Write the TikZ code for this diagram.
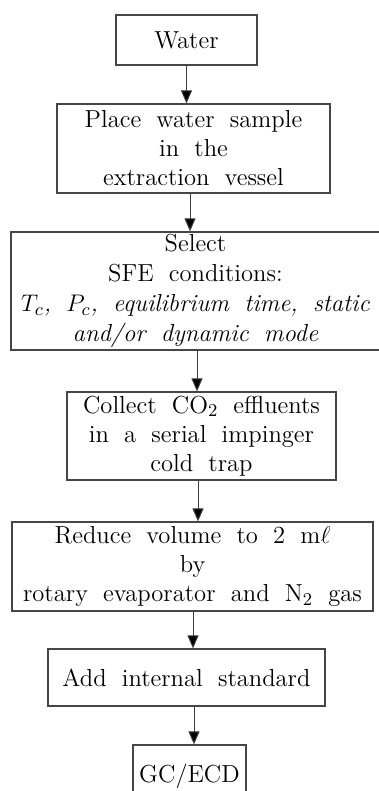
\documentclass[tikz,border=0pt]{standalone}
\usepackage{tikz}
\usetikzlibrary{arrows.meta}
\definecolor{boxcolor}{RGB}{70,70,70}
\definecolor{arrowcolor}{RGB}{60,60,60}
\newlength{\wordgap}
\setlength{\wordgap}{7.6pt plus 1pt minus 1pt}
\newcommand{\stepfont}[1]{\fontsize{12.3}{#1}\selectfont\spaceskip=\wordgap}

\begin{document}
\begin{tikzpicture}[x=0.5pt, y=-0.5pt]
  \tikzset{
    stepbox/.style={
      draw=boxcolor,
      line width=0.6pt,
      inner sep=0pt,
      align=center,
      anchor=center,
      font=\stepfont{14.5}
    },
    flow/.style={
      draw=arrowcolor,
      line width=0.5pt,
      -{Triangle[width=5.5pt,length=6.5pt,fill=black]}
    }
  }

  % Fix the page size
  \useasboundingbox (0,0) rectangle (379,791);
  \clip (0,0) rectangle (379,791);

  % Draw the steps
  \node[stepbox, minimum width=70.5pt, minimum height=25pt] at (186.5, 40) (water) {Water};

  \node[stepbox, minimum width=136.5pt, minimum height=44.5pt] at (193.5, 148.5) (place) {%
    Place water sample\\in the\\extraction vessel};

  \node[stepbox, minimum width=184.5pt, minimum height=59pt, font=\stepfont{15}] at (195.5, 291) (select) {%
    Select\\SFE conditions:\\
    \textit{$T_c$, $P_c$, equilibrium time, static}\\
    \textit{and/or dynamic mode}};

  \node[stepbox, minimum width=134.5pt, minimum height=44pt] at (201.5, 436) (collect) {%
    Collect CO$_2$ effluents\\in a serial impinger\\cold trap};

  \node[stepbox, minimum width=180.5pt, minimum height=44.5pt] at (192.5, 566.5) (reduce) {%
    Reduce volume to 2 m$\ell$\\by\\rotary evaporator and N$_2$ gas};

  \node[stepbox, minimum width=138.5pt, minimum height=28.5pt] at (186.5, 677.5) (addstd) {Add internal standard};

  \node[stepbox, minimum width=56.5pt, minimum height=31pt] at (189.5, 776) (gcecd) {GC/ECD};

  % Draw the arrows
  \draw[flow] (water.south) -- (water.south |- place.north);
  \draw[flow] ([xshift=-1.75pt]place.south) -- ([xshift=-1.75pt]place.south |- select.north);
  \draw[flow] ([xshift=0.75pt]select.south) -- ([xshift=0.75pt]select.south |- collect.north);
  \draw[flow] ([xshift=-1.75pt]collect.south) -- ([xshift=-1.75pt]collect.south |- reduce.north);
  \draw[flow] ([xshift=0.25pt]reduce.south) -- ([xshift=0.25pt]reduce.south |- addstd.north);
  \draw[flow] ([xshift=3.75pt]addstd.south) -- ([xshift=3.75pt]addstd.south |- gcecd.north);

\end{tikzpicture}
\end{document}
